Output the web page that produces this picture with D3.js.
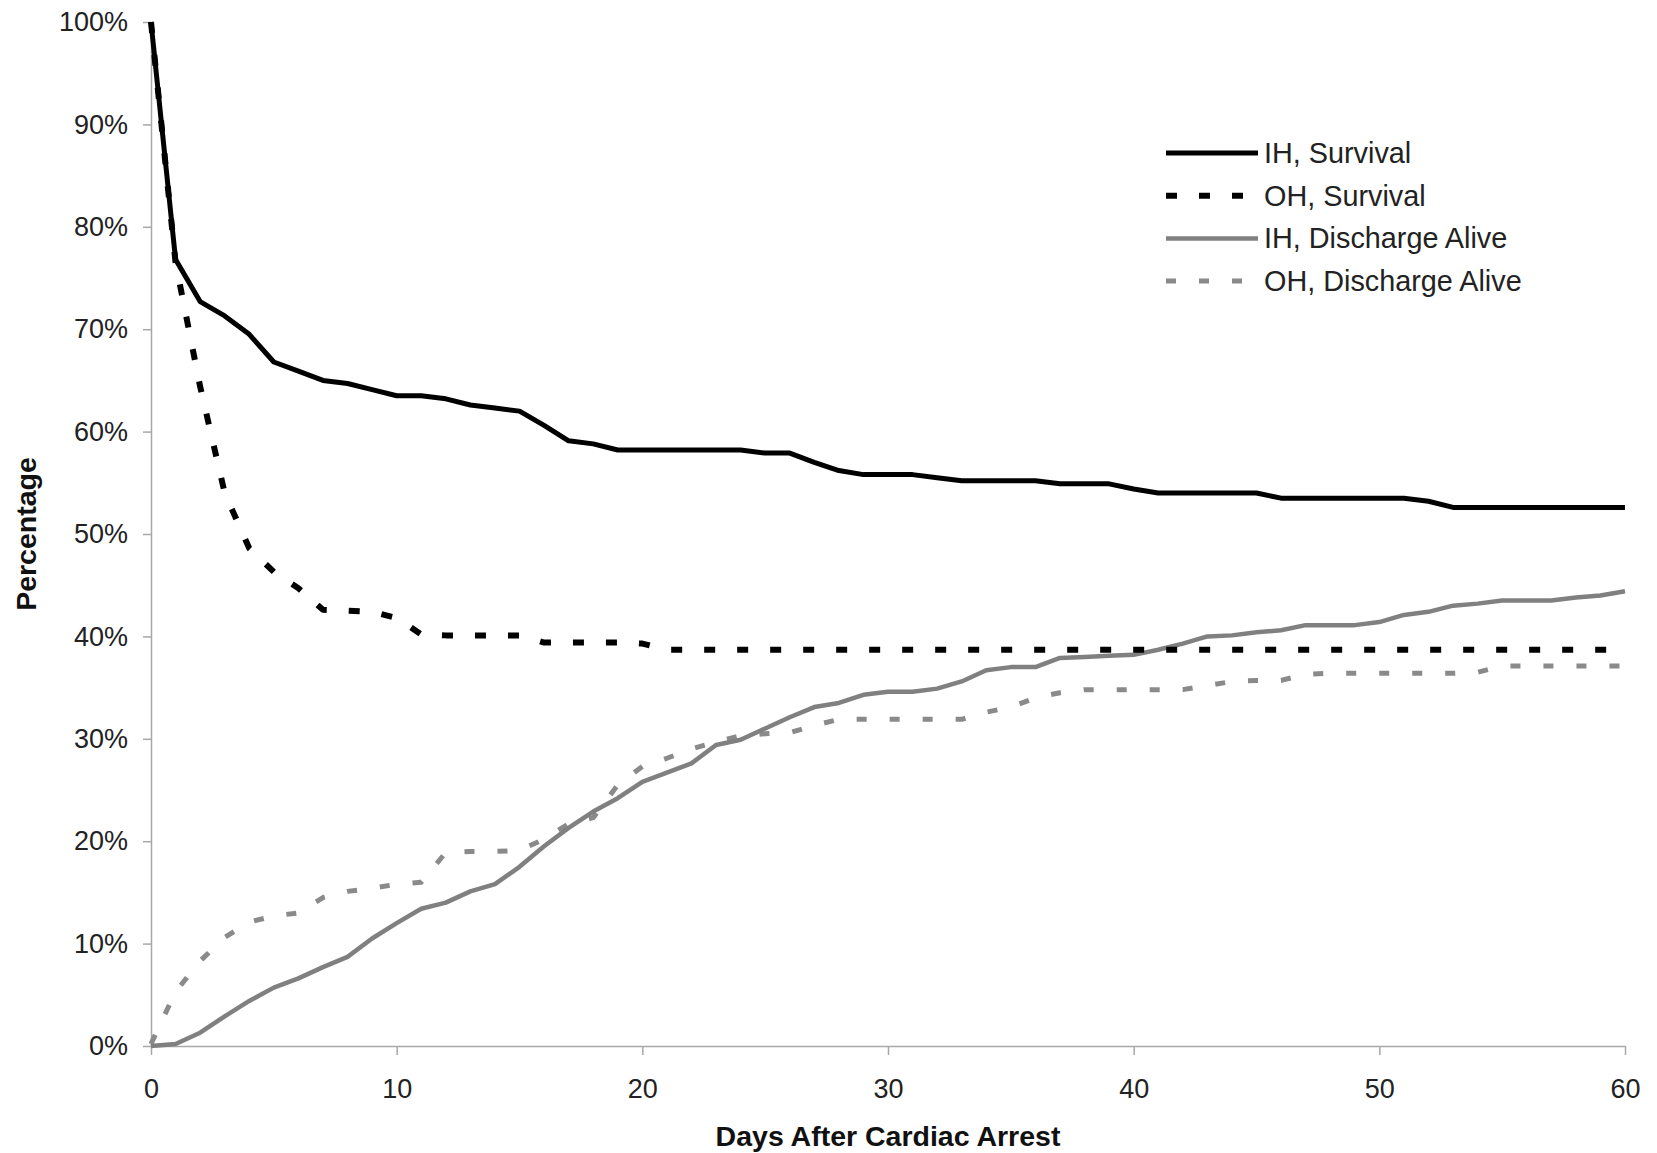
<!DOCTYPE html>
<html>
<head>
<meta charset="utf-8">
<script src="https://cdn.jsdelivr.net/npm/d3@7"></script>
<style>
  body { margin: 0; background: #fff; }
  text { font-family: "Liberation Sans", Arial, sans-serif; }
</style>
</head>
<body>
<div id="chart"></div>
<script>
// Days after arrest (x values)
const days = [0, 1, 2, 3, 4, 5, 6, 7, 8, 9, 10, 11, 12, 13, 14, 15, 16, 17, 18, 19, 20,
    21, 22, 23, 24, 25, 26, 27, 28, 29, 30, 31, 32, 33, 34, 35, 36, 37, 38, 39, 40,
    41, 42, 43, 44, 45, 46, 47, 48, 49, 50, 51, 52, 53, 54, 55, 56, 57, 58, 59, 60];

// Percentages, one per day
const ihSurvival = [100, 76.8, 72.7, 71.3, 69.5, 66.8, 65.9, 65.0, 64.7, 64.1, 63.5,
    63.5, 63.2, 62.6, 62.3, 62.0, 60.6, 59.1, 58.8, 58.2, 58.2,
    58.2, 58.2, 58.2, 58.2, 57.9, 57.9, 57.0, 56.2, 55.8, 55.8,
    55.8, 55.5, 55.2, 55.2, 55.2, 55.2, 54.9, 54.9, 54.9, 54.4,
    54.0, 54.0, 54.0, 54.0, 54.0, 53.5, 53.5, 53.5, 53.5, 53.5,
    53.5, 53.2, 52.6, 52.6, 52.6, 52.6, 52.6, 52.6, 52.6, 52.6];

const ohSurvival = [100, 76.5, 64.4, 54.0, 48.6, 46.3, 44.7, 42.6, 42.5, 42.4, 41.8,
    40.2, 40.1, 40.1, 40.1, 40.1, 39.4, 39.4, 39.4, 39.4, 39.3,
    38.7, 38.7, 38.7, 38.7, 38.7, 38.7, 38.7, 38.7, 38.7, 38.7,
    38.7, 38.7, 38.7, 38.7, 38.7, 38.7, 38.7, 38.7, 38.7, 38.7,
    38.7, 38.7, 38.7, 38.7, 38.7, 38.7, 38.7, 38.7, 38.7, 38.7,
    38.7, 38.7, 38.7, 38.7, 38.7, 38.7, 38.7, 38.7, 38.7, 38.7];

const ihDischarge = [0, 0.2, 1.3, 2.9, 4.4, 5.7, 6.6, 7.7, 8.7, 10.5, 12.0,
    13.4, 14.0, 15.1, 15.8, 17.5, 19.5, 21.3, 22.9, 24.2, 25.8,
    26.7, 27.6, 29.4, 29.9, 31.0, 32.1, 33.1, 33.5, 34.3, 34.6,
    34.6, 34.9, 35.6, 36.7, 37.0, 37.0, 37.9, 38.0, 38.1, 38.2,
    38.7, 39.3, 40.0, 40.1, 40.4, 40.6, 41.1, 41.1, 41.1, 41.4,
    42.1, 42.4, 43.0, 43.2, 43.5, 43.5, 43.5, 43.8, 44.0, 44.4];

const ohDischarge = [0.2, 5.3, 8.3, 10.6, 12.1, 12.7, 13.0, 14.5, 15.1, 15.4, 15.8,
    16.0, 18.9, 19.0, 19.0, 19.1, 20.2, 21.7, 22.3, 25.5, 27.3,
    28.1, 29.0, 29.7, 30.3, 30.5, 30.6, 31.3, 31.9, 31.9, 31.9,
    31.9, 31.9, 31.9, 32.6, 33.1, 34.0, 34.5, 34.8, 34.8, 34.8,
    34.8, 34.8, 35.2, 35.6, 35.7, 35.7, 36.3, 36.4, 36.4, 36.4,
    36.4, 36.4, 36.4, 36.5, 37.1, 37.1, 37.1, 37.1, 37.1, 37.1];

const seriesNames = ["IH, Survival", "OH, Survival", "IH, Discharge Alive", "OH, Discharge Alive"];
const xTicks = [0, 10, 20, 30, 40, 50, 60];
const yTicks = [0, 10, 20, 30, 40, 50, 60, 70, 80, 90, 100];

const W = 1657, H = 1153;
const margin = { top: 22, right: 32, bottom: 107, left: 151 };

const x = d3.scaleLinear().domain([0, 60]).range([margin.left, W - margin.right]);
const y = d3.scaleLinear().domain([0, 100]).range([H - margin.bottom, margin.top]);

const svg = d3.select("#chart").append("svg")
    .attr("width", W)
    .attr("height", H);

// axes
const yAxis = svg.append("g")
    .attr("transform", `translate(${margin.left},0)`)
    .call(d3.axisLeft(y).tickValues(yTicks).tickFormat(d => d + "%")
        .tickSize(8).tickSizeOuter(0).tickPadding(15));

const xAxis = svg.append("g")
    .attr("transform", `translate(0,${H - margin.bottom})`)
    .call(d3.axisBottom(x).tickValues(xTicks)
        .tickSize(9).tickSizeOuter(0).tickPadding(24));

[yAxis, xAxis].forEach(a => {
    a.select(".domain").attr("stroke", "#a8a8a8").attr("stroke-width", 1.5);
    a.selectAll(".tick line").attr("stroke", "#a8a8a8").attr("stroke-width", 1.5);
    a.selectAll(".tick text")
        .attr("font-size", 27)
        .attr("fill", "#222")
        .attr("font-family", "'Liberation Sans', Arial, sans-serif");
});

// axis titles
svg.append("text")
    .attr("x", (margin.left + W - margin.right) / 2)
    .attr("y", 1146)
    .attr("text-anchor", "middle")
    .attr("font-size", 28.5)
    .attr("font-weight", "bold")
    .attr("fill", "#111")
    .text("Days After Cardiac Arrest");

svg.append("text")
    .attr("transform", `translate(36,${(margin.top + H - margin.bottom) / 2}) rotate(-90)`)
    .attr("text-anchor", "middle")
    .attr("font-size", 28.5)
    .attr("font-weight", "bold")
    .attr("fill", "#111")
    .text("Percentage");

// lines
const styles = [
    { color: "#000", width: 5, dash: null },
    { color: "#000", width: 6, dash: "11,22" },
    { color: "#808080", width: 4.5, dash: null },
    { color: "#8a8a8a", width: 5, dash: "10,23" }
];
const values = [ihSurvival, ohSurvival, ihDischarge, ohDischarge];

const line = d3.line()
    .x((d, i) => x(days[i]))
    .y(d => y(d));

// gray first so black lies on top
[3, 2, 1, 0].forEach(k => {
    svg.append("path")
        .datum(values[k])
        .attr("fill", "none")
        .attr("stroke", styles[k].color)
        .attr("stroke-width", styles[k].width)
        .attr("stroke-dasharray", styles[k].dash)
        .attr("stroke-linejoin", "round")
        .attr("d", line);
});

// legend
const legend = svg.append("g").attr("transform", "translate(1166,153)");
seriesNames.forEach((name, i) => {
    const row = legend.append("g").attr("transform", `translate(0,${i * 42.7})`);
    row.append("line")
        .attr("x1", 0).attr("x2", 92)
        .attr("stroke", styles[i].color)
        .attr("stroke-width", styles[i].width)
        .attr("stroke-dasharray", styles[i].dash);
    row.append("text")
        .attr("x", 98)
        .attr("dy", "0.35em")
        .attr("font-size", 28.8)
        .attr("fill", "#222")
        .text(name);
});
</script>
</body>
</html>
